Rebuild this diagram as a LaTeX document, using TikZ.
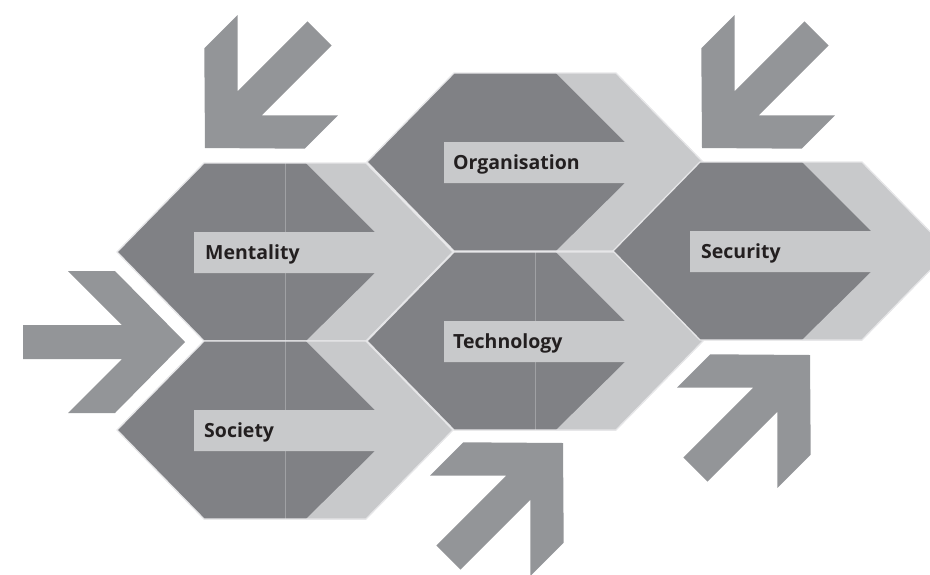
\documentclass[tikz,border=0pt]{standalone}
\usepackage{fontspec}
\setmainfont{Open Sans}
\definecolor{hexdark}{HTML}{808185}
\definecolor{hexlight}{HTML}{C8C9CB}
\definecolor{arrowgray}{HTML}{939598}
\definecolor{hexline}{HTML}{E6E6E8}
\definecolor{seamcol}{HTML}{A0A1A4}
\definecolor{labeltext}{HTML}{231F20}
\tikzset{
  lbl/.style={font=\bfseries\fontsize{19.5}{22}\selectfont, text=labeltext, inner sep=0pt, anchor=base west},
  hexborder/.style={draw=hexline, line width=1.3pt},
}
% hexagon unit: #1 cx, #2 cy, #3 seam (1 or 0)
\newcommand{\hexunit}[3]{%
  \begin{scope}[shift={(#1,#2)}]
    \fill[hexdark] (-168,0) -- (-81,-89) -- (81,-89) -- (168,0) -- (81,89) -- (-81,89) -- cycle;
    \ifnum#3=1 \draw[seamcol, line width=0.7pt] (0,-89) -- (0,89);\fi
    \fill[hexlight] (-91,-20) -- (90,-20) -- (21,-89) -- (81,-89) -- (168,0) -- (81,89) -- (21,89) -- (90,21) -- (-91,21) -- cycle;
    \draw[hexborder] (-168,0) -- (-81,-89) -- (81,-89) -- (168,0) -- (81,89) -- (-81,89) -- cycle;
  \end{scope}}
% outer arrow: #1 tip x, #2 tip y, #3 angle
\newcommand{\bigarrow}[3]{%
  \fill[arrowgray, shift={(#1,#2)}, rotate=#3] (0,0) -- (-70,71) -- (-117,71) -- (-63,17) -- (-162,17) -- (-162,-17) -- (-63,-17) -- (-117,-71) -- (-70,-71) -- cycle;}
\begin{document}
\begin{tikzpicture}[x=1pt, y=-1pt]
  \useasboundingbox (0,0) rectangle (930,574);
  \clip (0,0) rectangle (930,574);
  % hexagons
  \hexunit{285}{252}{1}
  \hexunit{285}{430}{1}
  \hexunit{535}{162}{0}
  \hexunit{535}{341}{1}
  \hexunit{781}{251}{0}
  % labels
  \node[lbl] (mentality) at (205,259) {Mentality};
  \node[lbl] (society) at (204,437) {Society};
  \node[lbl] (organisation) at (453,169) {Organisation};
  \node[lbl] (technology) at (453,348) {Technology};
  \node[lbl] (security) at (701,258) {Security};
  % outer arrows
  \bigarrow{185}{342}{0}
  \bigarrow{205}{148}{225}
  \bigarrow{702}{148}{225}
  \bigarrow{563}{443}{45}
  \bigarrow{810}{355}{45}
\end{tikzpicture}
\end{document}
